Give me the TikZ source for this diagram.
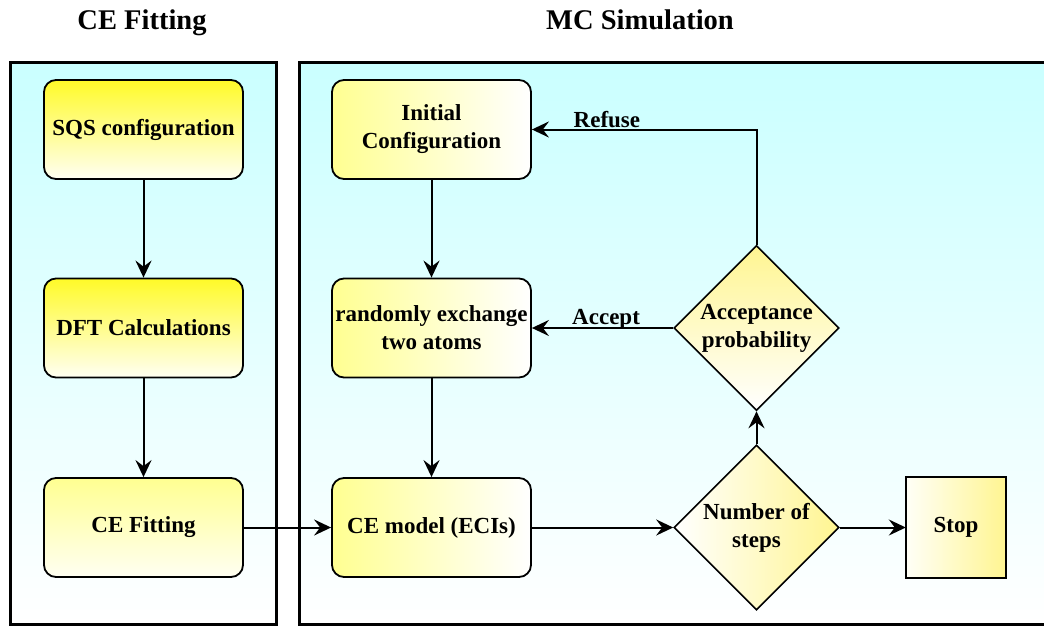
\documentclass[tikz,border=0pt]{standalone}
\usepackage{fontspec}
\setmainfont{Liberation Serif}
\usetikzlibrary{shapes.geometric,arrows.meta}

\definecolor{panelcyan}{RGB}{202,255,255}
\definecolor{deepyellow}{RGB}{255,250,40}
\definecolor{softyellow}{RGB}{255,255,145}
\definecolor{diayellow}{RGB}{255,245,145}
\definecolor{paleend}{RGB}{255,255,242}

\tikzset{
  panel/.style={line width=3pt, draw=black, top color=panelcyan, bottom color=white},
  stepbox/.style={draw=black, line width=1.8pt, rounded corners=12pt,
    minimum width=199pt, minimum height=99pt, inner sep=0pt},
  vgrad/.style={top color=deepyellow, bottom color=paleend},
  vsoft/.style={top color=softyellow, bottom color=paleend},
  hgrad/.style={left color=softyellow, right color=white},
  choice/.style={diamond, draw=black, line width=1.6pt, aspect=1,
    minimum width=165pt, minimum height=165pt, inner sep=0pt},
  stopbox/.style={minimum width=100pt, minimum height=100pt, inner sep=0pt,
    left color=white!97!yellow, right color=diayellow},
  stopedge/.style={draw=black, line width=1.8pt},
  txt/.style={align=center, font=\fontsize{23}{28}\selectfont\bfseries, inner sep=0pt},
  title/.style={font=\fontsize{28.5}{34}\selectfont\bfseries, inner sep=0pt, anchor=base},
  arr/.style={line width=2pt, -{Stealth[length=17pt,width=16pt,inset=6pt]}},
  lbl/.style={font=\fontsize{23}{28}\selectfont\bfseries, inner sep=0pt, anchor=base}
}

\begin{document}
\begin{tikzpicture}[x=1pt,y=-1pt]
  \clip (0,0) rectangle (1044,626);
  \fill[white] (0,0) rectangle (1044,626);

  % column headings
  \node[title] (hce) at (142,30) {CE Fitting};
  \node[title] (hmc) at (640,30) {MC Simulation};

  % the two panels
  \path[panel] (10,63) rectangle (276,624);
  \path[panel] (299,63) rectangle (1060,624);

  % CE fitting column
  \node[stepbox, vgrad] (sqs) at (143.5,129.5) {};
  \node[txt] (sqst) at (sqs) {SQS configuration};
  \node[stepbox, vgrad] (dft) at (143.5,328) {};
  \node[txt] (dftt) at (dft) {DFT Calculations};
  \node[stepbox, vsoft] (cefit) at (143.5,527.5) {};
  \node[txt] (cefitt) at (cefit) {CE Fitting};

  % Monte Carlo column
  \node[stepbox, hgrad] (init) at (431.5,129.5) {};
  \node[txt] (initt) at (init) {Initial\\Configuration};
  \node[stepbox, hgrad] (rnd) at (431.5,328) {};
  \node[txt] (rndt) at (rnd) {randomly exchange\\two atoms};
  \node[stepbox, hgrad] (cem) at (431.5,527.5) {};
  \node[txt] (cemt) at (cem) {CE model (ECIs)};

  \node[choice, top color=diayellow, bottom color=white] (acc) at (756.5,328) {};
  \node[txt] (acct) at (acc) {Acceptance\\probability};
  \node[choice, left color=white, right color=diayellow] (nos) at (756.5,527.5) {};
  \node[txt] (nost) at (nos) {Number of\\steps};

  \node[stopbox] (stop) at (956,527.5) {};
  \draw[stopedge] (stop.north west) rectangle (stop.south east);
  \node[txt] (stopt) at (stop) {Stop};

  % connectors
  \draw[arr] (sqs.south) -- (dft.north);
  \draw[arr] (dft.south) -- (cefit.north);
  \draw[arr] (cefit.east) -- (cem.west);
  \draw[arr] (init.south) -- (rnd.north);
  \draw[arr] (rnd.south) -- (cem.north);
  \draw[arr] (cem.east) -- (nos.west);
  \draw[arr] (nos.east) -- (stop.west);
  \draw[arr] (nos.north) -- (acc.south);
  \draw[arr] (acc.west) -- (rnd.east)
    node[lbl, pos=0.475, yshift=4pt] (acclbl) {Accept};
  \draw[arr] (acc.north) |- (init.east)
    node[lbl, pos=0.833, yshift=2pt] (reflbl) {Refuse};
\end{tikzpicture}
\end{document}
